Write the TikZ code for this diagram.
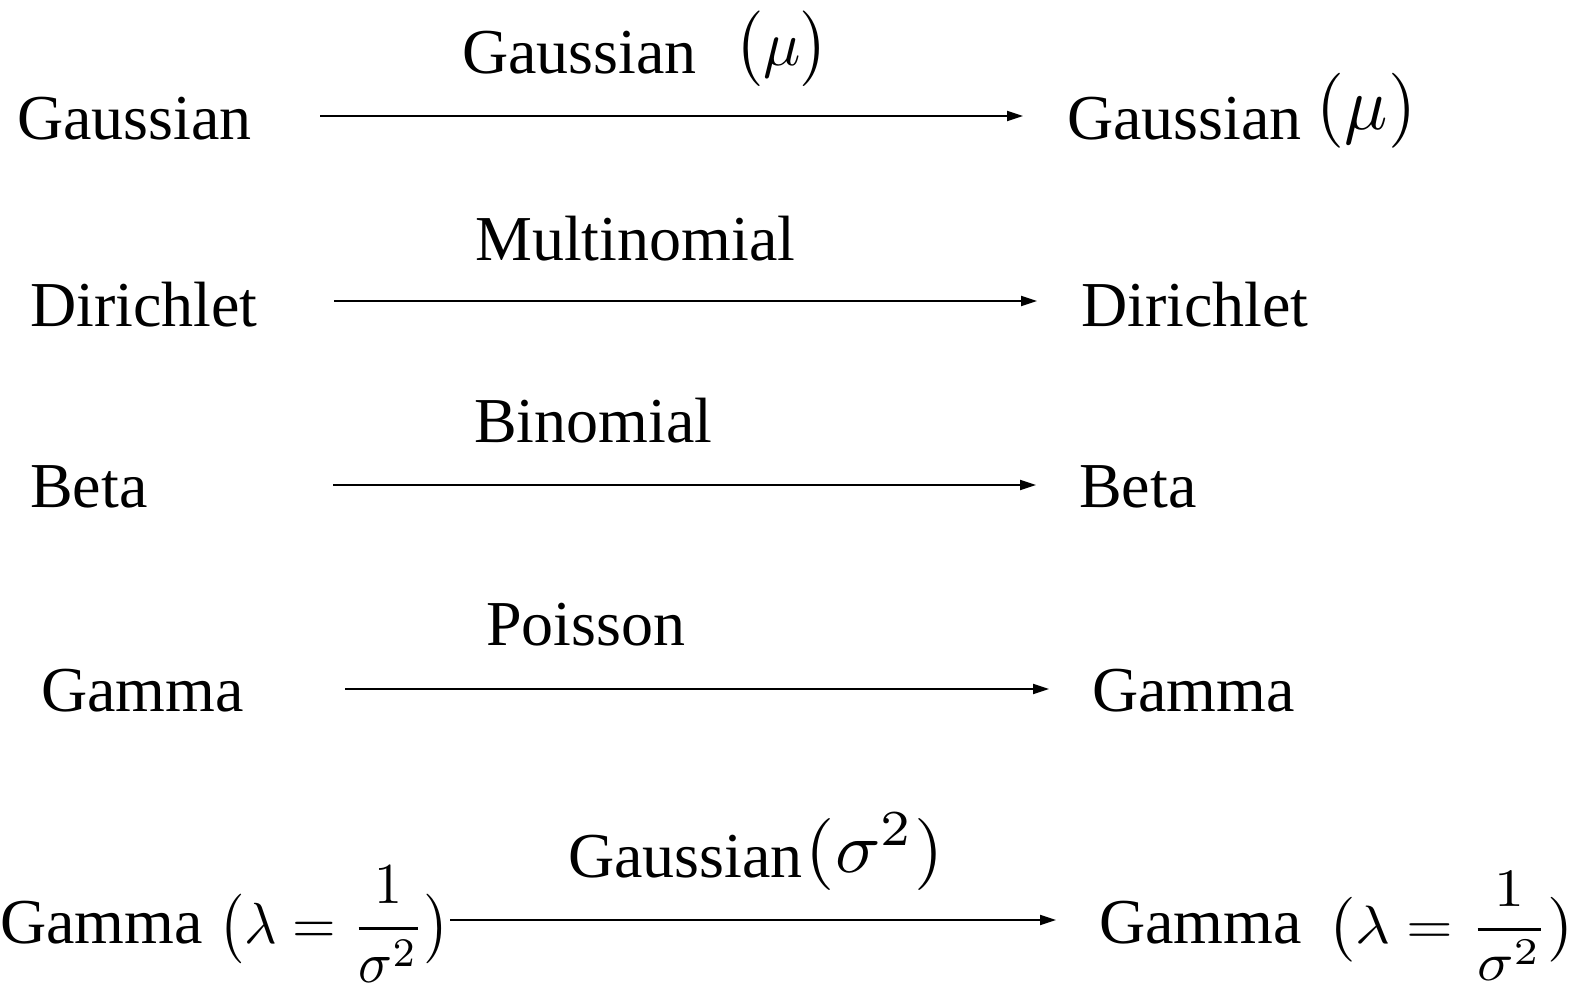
\documentclass[tikz,border=0pt]{standalone}
\usepackage{fontspec}
\setmainfont{Liberation Serif}
\usetikzlibrary{arrows.meta}
\newcommand\mmath[3]{\scalebox{#1}[#2]{\fontsize{10}{12}\selectfont$#3$}}
\begin{document}
\begin{tikzpicture}[x=1pt,y=-1pt,
  txt/.style={anchor=base west,inner sep=0pt,font=\fontsize{64}{76}\selectfont},
  arr/.style={line width=2pt,-{Triangle[length=16pt,width=10pt]}}]
\useasboundingbox (0,0) rectangle (1581,989);
% row 1
\node[txt] (l1) at (17,139) {Gaussian};
\node[txt] (t1) at (462,73) {Gaussian\hspace{38pt}\raisebox{8pt}{\mmath{6.2}{6.3}{\bigl(\mu\bigr)}}};
\node[txt] (r1) at (1067,139) {Gaussian\hspace{15pt}\raisebox{10pt}{\mmath{7.2}{7.5}{(\mu)}}};
\coordinate (s1) at (320,116);
\coordinate (e1) at (1023,116);
\draw[arr] (s1) -- (e1);
% row 2
\node[txt] (l2) at (30,326) {Dirichlet};
\node[txt] (t2) at (475,260) {Multinomial};
\node[txt] (r2) at (1081,326) {Dirichlet};
\coordinate (s2) at (334,301);
\coordinate (e2) at (1037,301);
\draw[arr] (s2) -- (e2);
% row 3
\node[txt] (l3) at (30,507) {Beta};
\node[txt] (t3) at (474,442) {Binomial};
\node[txt] (r3) at (1079,507) {Beta};
\coordinate (s3) at (333,485);
\coordinate (e3) at (1036,485);
\draw[arr] (s3) -- (e3);
% row 4
\node[txt] (l4) at (41,711) {Gamma};
\node[txt] (t4) at (486,645) {Poisson};
\node[txt] (r4) at (1092,711) {Gamma};
\coordinate (s4) at (345,689);
\coordinate (e4) at (1049,689);
\draw[arr] (s4) -- (e4);
% row 5
\node[txt] (l5) at (0,943) {Gamma \mmath{5.6}{5.8}{\bigl(\lambda=\displaystyle\frac{1}{\sigma^2}\bigr)}};
\node[txt] (t5) at (568,877) {Gaussian\hspace{3pt}\raisebox{5pt}{\mmath{7.5}{7.2}{(\sigma^2)}}};
\node[txt] (r5) at (1099,943) {Gamma\hspace{26pt}\mmath{6.0}{5.4}{\bigl(\lambda=\displaystyle\frac{1}{\sigma^2}\bigr)}};
\coordinate (e5) at (1056,920);
\draw[arr] (l5.east |- e5) -- (e5);
\end{tikzpicture}
\end{document}
